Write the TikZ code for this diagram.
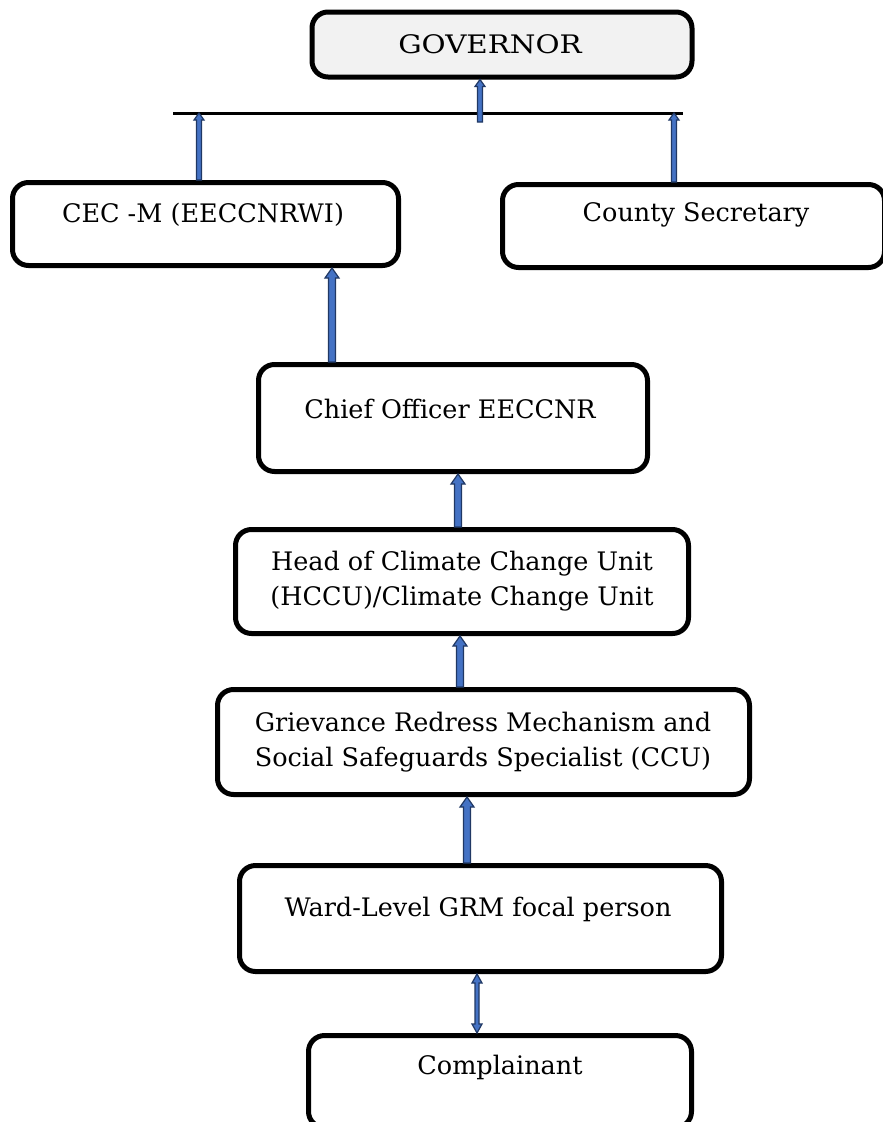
\documentclass[tikz,border=0pt]{standalone}
\usepackage{fontspec}
\setmainfont{DejaVu Serif}
\usetikzlibrary{calc}
\definecolor{arrfill}{HTML}{4472C4}
\definecolor{arredge}{HTML}{203864}
\definecolor{govfill}{HTML}{F2F2F2}
\tikzset{
  box/.style={draw=black, line width=5pt, rounded corners=16pt, fill=white, inner sep=0pt},
  lbl/.style={font=\fontsize{25.5}{35}\selectfont, align=center, inner sep=0pt},
  barrow/.style={fill=arrfill, draw=arredge, line width=1.2pt, line join=miter},
  hline/.style={draw=black, line width=3pt}
}
% vertical up block arrow: #1 x, #2 start anchor, #3 tip anchor, #4 half shaft, #5 half head, #6 head length
\newcommand\vblockup[6]{%
  \draw[barrow] let \p1=(#2), \p2=(#3) in
    (#1-#4,\y1) -- (#1-#4,\y2-#6) -- (#1-#5,\y2-#6) -- (#1,\y2)
    -- (#1+#5,\y2-#6) -- (#1+#4,\y2-#6) -- (#1+#4,\y1) -- cycle;}
\begin{document}
\begin{tikzpicture}[x=1pt,y=-1pt]
\clip (0,0) rectangle (883,1122);
\fill[white] (0,0) rectangle (883,1122);
% boxes
\node[box, fill=govfill, minimum width=380pt, minimum height=65pt] (gov) at (502,44.5) {};
\node[box, minimum width=386pt, minimum height=83pt] (cec) at (205.5,224) {};
\node[box, minimum width=382pt, minimum height=83pt] (cs) at (693.5,226) {};
\node[box, minimum width=389pt, minimum height=107pt] (chief) at (453,418) {};
\node[box, minimum width=453pt, minimum height=104pt] (head) at (462,581.5) {};
\node[box, minimum width=532pt, minimum height=105pt] (grv) at (483.5,742) {};
\node[box, minimum width=482pt, minimum height=106pt] (ward) at (480.5,918.5) {};
\node[box, minimum width=383pt, minimum height=92pt] (comp) at (500,1081.5) {};
% texts
\node[lbl] (govt) at (490,44) {\scalebox{1.15}[1]{GOVERNOR}};
\node[lbl] (cect) at (203,215) {CEC -M (EECCNRWI)};
\node[lbl] (cst) at (696,215) {County Secretary};
\node[lbl] (chieft) at (450,409) {Chief Officer EECCNR};
\node[lbl] (headt) at (462,581) {Head of Climate Change Unit\\(HCCU)/Climate Change Unit};
\node[lbl] (grvt) at (483,742) {Grievance Redress Mechanism and\\Social Safeguards Specialist (CCU)};
\node[lbl] (wardt) at (478,909) {Ward-Level GRM focal person};
\node[lbl] (compt) at (500,1067) {Complainant};
% top bar
\coordinate (barL) at (173,113);
\coordinate (barR) at (683,113);
\coordinate (barM) at (480,122);
\draw[hline] (barL) -- (barR);
% arrows
\vblockup{480pt}{barM}{gov.south}{2.5pt}{5pt}{7pt}
\vblockup{199pt}{cec.north}{barL}{2.5pt}{5pt}{7pt}
\vblockup{674pt}{cs.north}{barR}{2.5pt}{5pt}{7pt}
\vblockup{332pt}{chief.north}{cec.south}{3.5pt}{7pt}{10pt}
\vblockup{458pt}{head.north}{chief.south}{3.5pt}{7pt}{10pt}
\vblockup{460pt}{grv.north}{head.south}{3.5pt}{7pt}{10pt}
\vblockup{467pt}{ward.north}{grv.south}{3.5pt}{7pt}{10pt}
% horizontal arrow CEC -> County Secretary
\draw[barrow] let \p1=(cec.east), \p2=(cs.west) in
  (\x1,-221) -- (\x2-7,-221) -- (\x2-7,-218) -- (\x2,-223) -- (\x2-7,-228)
  -- (\x2-7,-225) -- (\x1,-225) -- cycle;
% double arrow ward <-> complainant
\draw[barrow] let \p1=(ward.south), \p2=(comp.north) in
  (477,\y1) -- (482,\y1-9) -- (479,\y1-9) -- (479,\y2+9) -- (482,\y2+9)
  -- (477,\y2) -- (472,\y2+9) -- (475,\y2+9) -- (475,\y1-9) -- (472,\y1-9) -- cycle;
\end{tikzpicture}
\end{document}
